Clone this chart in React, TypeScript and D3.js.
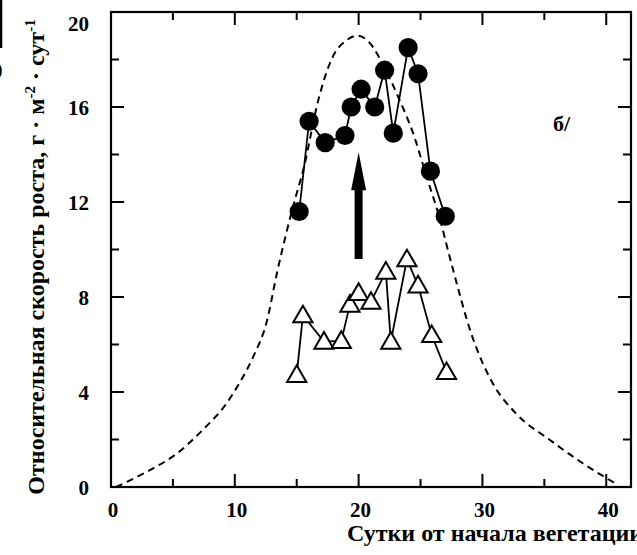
import React from "react";
import * as d3 from "d3";

// Days since the start of vegetation (filled circles series)
const circleDays = [15.2, 16.0, 17.3, 18.9, 19.4, 20.2, 21.3, 22.1, 22.8, 24.0, 24.8, 25.8, 27.0];
const circleRates = [11.6, 15.4, 14.5, 14.8, 16.0, 16.75, 16.0, 17.55, 14.9, 18.5, 17.4, 13.3, 11.4];

// Open triangles series
const triangleDays = [15.0, 15.5, 17.2, 18.6, 19.3, 20.0, 21.0, 22.2, 22.6, 23.9, 24.8, 25.9, 27.1];
const triangleRates = [4.72, 7.23, 6.12, 6.15, 7.68, 8.17, 7.8, 9.07, 6.12, 9.59, 8.49, 6.4, 4.84];

// Dashed envelope curve
const curveDays = [0.4, 3.1, 5.3, 7.4, 9.3, 10.4, 11.5, 12.6, 13.4, 14.7, 15.6, 16.7, 17.9, 19.0, 19.9, 20.9, 21.9, 23.3, 24.4, 25.5, 26.5, 27.5, 29.2, 30.8, 32.7, 35.4, 38.1, 40.9];
const curveRates = [0, 0.7, 1.4, 2.4, 3.5, 4.4, 5.5, 7.0, 9.0, 11.8, 13.5, 16.2, 18.1, 18.8, 19.0, 18.7, 17.85, 16.3, 14.9, 13.05, 11.4, 9.4, 6.3, 4.4, 3.1, 2.0, 1.0, 0.1];

// Arrow at day 20, from rate 9.6 up to 14.1
const arrowDay = 20;
const arrowFrom = 9.6;
const arrowTo = 14.1;

const xMajorTicks = [0, 10, 20, 30, 40];
const xMinorTicks = [5, 15, 25, 35];
const yMajorTicks = [0, 4, 8, 12, 16, 20];
const yMinorTicks = [2, 6, 10, 14, 18];

const yTitle = "Относительная скорость роста, г · м";
const xTitle = "Сутки от начала вегетации";
const panelLabel = "б/";

const W = 637;
const H = 555;
const serif: React.CSSProperties = {
  fontFamily: "'Liberation Serif', 'DejaVu Serif', serif",
  fontWeight: 700,
};

export default function App() {
  const x = d3.scaleLinear().domain([0, 42]).range([111, 631]);
  const y = d3.scaleLinear().domain([0, 20]).range([487, 12]);
  const [x0, x1] = x.range();
  const [y0, y1] = y.range();

  const line = d3
    .line<[number, number]>()
    .x((d) => x(d[0]))
    .y((d) => y(d[1]));
  const smooth = d3
    .line<[number, number]>()
    .x((d) => x(d[0]))
    .y((d) => y(d[1]))
    .curve(d3.curveMonotoneX);

  const circles: [number, number][] = circleDays.map((d, i) => [d, circleRates[i]]);
  const triangles: [number, number][] = triangleDays.map((d, i) => [d, triangleRates[i]]);
  const curve: [number, number][] = curveDays.map((d, i) => [d, curveRates[i]]);

  const major = 13;
  const minor = 8;
  const tri = d3.symbol(d3.symbolTriangle, 160)();

  const ax = x(arrowDay);
  const headBase = y(arrowTo) + 38;

  return (
    <svg
      width={W}
      height={H}
      style={{ position: "absolute", left: 0, top: 0, background: "#fff" }}
    >
      <rect width={W} height={H} fill="#fff" />
      {/* edge of the neighbouring panel */}
      <line x1={1} x2={1} y1={0} y2={48} stroke="#000" strokeWidth={2.5} />
      <text x={-8} y={78} fontSize={21} style={serif}>0</text>

      {/* dashed envelope */}
      <path
        d={smooth(curve) ?? ""}
        fill="none"
        stroke="#000"
        strokeWidth={2}
        strokeDasharray="7 5"
      />

      {/* frame */}
      <rect x={x0} y={y1} width={x1 - x0} height={y0 - y1} fill="none" stroke="#000" strokeWidth={2.2} />

      {/* x ticks (bottom and top, inward) */}
      {[...xMajorTicks.map((t) => [t, major]), ...xMinorTicks.map((t) => [t, minor])].map(([t, len], i) => (
        <g key={`xt${i}`} stroke="#000" strokeWidth={2}>
          <line x1={x(t)} x2={x(t)} y1={y0} y2={y0 - len} />
          <line x1={x(t)} x2={x(t)} y1={y1} y2={y1 + len} />
        </g>
      ))}
      {/* y ticks (left and right, inward) */}
      {[...yMajorTicks.map((t) => [t, major]), ...yMinorTicks.map((t) => [t, minor])].map(([t, len], i) => (
        <g key={`yt${i}`} stroke="#000" strokeWidth={2}>
          <line x1={x0} x2={x0 + len} y1={y(t)} y2={y(t)} />
          <line x1={x1} x2={x1 - len} y1={y(t)} y2={y(t)} />
        </g>
      ))}

      {/* tick labels */}
      {xMajorTicks.map((t) => (
        <text key={`xl${t}`} x={x(t) + 2} y={517} fontSize={21} textAnchor="middle" style={serif}>
          {t}
        </text>
      ))}
      {yMajorTicks.map((t) => (
        <text
          key={`yl${t}`}
          x={89}
          y={Math.max(y(t) + 1, 24)}
          dy="0.35em"
          fontSize={21}
          textAnchor="end"
          style={serif}
        >
          {t}
        </text>
      ))}

      {/* series lines */}
      <path d={line(triangles) ?? ""} fill="none" stroke="#000" strokeWidth={1.8} />
      <path d={line(circles) ?? ""} fill="none" stroke="#000" strokeWidth={1.8} />

      {/* triangle markers */}
      {triangles.map(([d, v], i) => (
        <path
          key={`tr${i}`}
          d={tri ?? ""}
          transform={`translate(${x(d)},${y(v) + 1.5})`}
          fill="#fff"
          stroke="#000"
          strokeWidth={2}
        />
      ))}
      {/* circle markers */}
      {circles.map(([d, v], i) => (
        <circle key={`c${i}`} cx={x(d)} cy={y(v)} r={9.6} fill="#000" />
      ))}

      {/* arrow */}
      <rect x={ax - 4} y={headBase - 1} width={8} height={y(arrowFrom) - headBase + 1} fill="#000" />
      <path d={`M${ax - 7.5},${headBase} L${ax},${y(arrowTo)} L${ax + 7.5},${headBase} Z`} fill="#000" />

      {/* panel label */}
      <text x={x(35.7)} y={y(15.0)} fontSize={22} style={serif}>
        {panelLabel}
      </text>

      {/* axis titles */}
      <text
        transform={`translate(44, ${257}) rotate(-90)`}
        fontSize={24}
        textAnchor="middle"
        style={serif}
      >
        {yTitle}
        <tspan dy={-9} fontSize={15}>-2</tspan>
        <tspan dy={9}> · сут</tspan>
        <tspan dy={-9} fontSize={15}>-1</tspan>
      </text>
      <text x={347} y={541} fontSize={24} style={serif}>
        {xTitle}
      </text>
    </svg>
  );
}
